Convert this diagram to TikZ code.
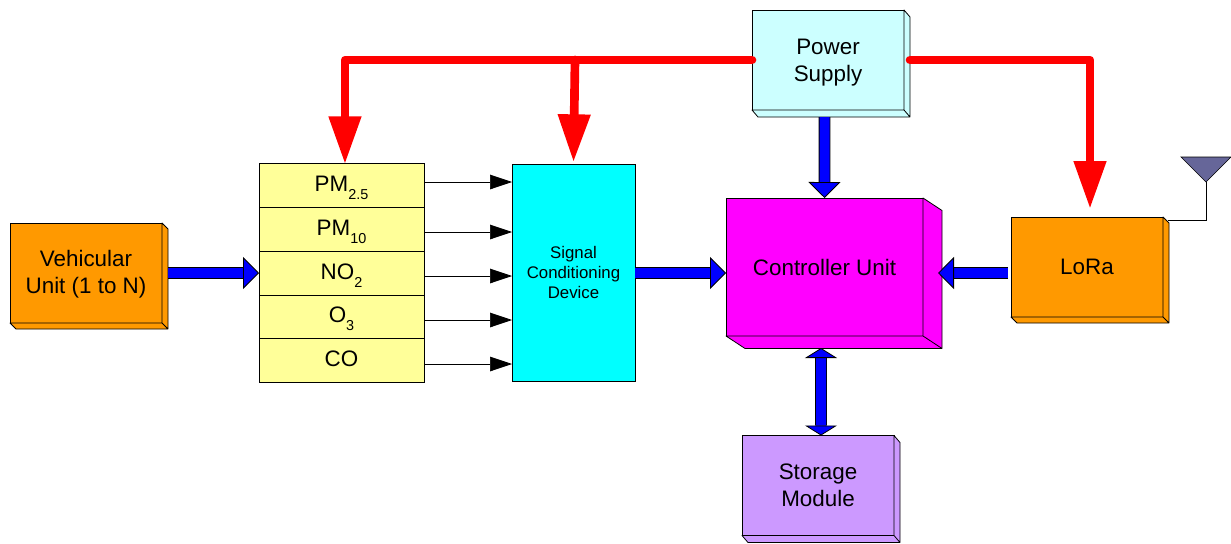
\documentclass[tikz,border=0pt]{standalone}
\usepackage{fontspec}
\setmainfont{Liberation Sans}
\usepackage{pgf, tikz}
\usetikzlibrary{shapes}
\usetikzlibrary{shapes.multipart}
\usetikzlibrary{arrows.meta}

\definecolor{unitorange}{HTML}{FF9900}
\definecolor{powercyan}{HTML}{CCFFFF}
\definecolor{sensoryellow}{HTML}{FFFF99}
\definecolor{storagepurple}{HTML}{CC99FF}
\definecolor{antennablue}{HTML}{666699}
\definecolor{signalcyan}{HTML}{00FFFF}
\definecolor{controlmagenta}{HTML}{FF00FF}
\definecolor{linkblue}{HTML}{0000FF}
\definecolor{powerred}{HTML}{FF0000}

\tikzset{
  unitbox/.style={draw, rectangle, align=center, inner sep=0pt, outer sep=0pt,
    line width=0.6pt, font=\fontsize{16.8}{20.25}\selectfont},
  powerline/.style={draw=powerred, line width=6.5pt, line cap=round, line join=round,
    -{Triangle[length=36pt, width=23pt]}},
  dataline/.style={draw=black, line width=0.6pt, double=linkblue, double distance=7.5pt,
    -{Triangle[length=12pt, width=24pt, line width=0.6pt, fill=linkblue]}},
  bothline/.style={draw=black, line width=0.6pt, double=linkblue, double distance=7.5pt,
    {Triangle[length=7.5pt, width=24pt, line width=0.6pt, fill=linkblue]}-{Triangle[length=7.5pt, width=24pt, line width=0.6pt, fill=linkblue]}},
  sensorline/.style={draw=black, line width=0.5pt,
    -{Triangle[length=16.5pt, width=11pt]}}
}

\newcommand{\sensorsub}[1]{\raisebox{-6pt}{\fontsize{10.8}{12}\selectfont #1}}
\newcommand{\sensorstrut}{\rule[-11.6pt]{0pt}{32.3pt}}
\newcommand{\boxdepth}[4]{
  \filldraw[fill=#4, line width=0.6pt, line join=round] (#1.north east) -- ++(#2,#3)
    -- ([shift={(#2,#3)}]#1.south east)
    -- ([shift={(#2,#3)}]#1.south west)
    -- (#1.south west) -- (#1.south east) -- cycle
    (#1.south east) -- ++(#2,#3);
}

\begin{document}
\begin{tikzpicture}[x=0.75pt, y=-0.75pt]
\useasboundingbox (0,0) rectangle (1231,543);

\node[unitbox, fill=unitorange,
   minimum width=114pt,
   minimum height=75pt] (vehicle) at (86,273)
  {\rule{0pt}{14.2pt}Vehicular\\Unit (1 to N)};
\node[unitbox, fill=powercyan,
   minimum width=114pt,
   minimum height=75pt] (power) at (828,60)
  {\rule{0pt}{15pt}Power\\Supply};
\node[unitbox, fill=controlmagenta,
   minimum width=147.75pt,
   minimum height=103.5pt] (controller) at (824.5,267)
  {Controller Unit};
\node[unitbox, fill=unitorange,
   minimum width=114pt,
   minimum height=75pt] (lora) at (1087,267)
  {LoRa};
\node[unitbox, fill=storagepurple,
   minimum width=114pt,
   minimum height=75pt] (storage) at (818,485.5)
  {Storage\\Module};
\node[unitbox, fill=signalcyan,
   font=\fontsize{12.6}{15}\selectfont,
   minimum width=92.25pt,
   minimum height=163pt] (signal) at (573.5,273)
  {Signal\\Conditioning\\Device\rule[-1.5pt]{0pt}{0pt}};
\node[draw, fill=sensoryellow,
   rectangle split,
   rectangle split parts=5,
   line width=0.6pt,
   inner ysep=0pt,
   outer sep=0pt,
   minimum width=123.75pt,
   font=\fontsize{16.8}{20.25}\selectfont] (sensors) at (341.5,273)
  {\sensorstrut PM\sensorsub{2.5}
     \nodepart{two} \sensorstrut PM\sensorsub{10}
     \nodepart{three} \sensorstrut NO\sensorsub{2}
     \nodepart{four} \sensorstrut O\sensorsub{3}
     \nodepart{five} \sensorstrut CO};

\boxdepth{vehicle}{6}{6}{unitorange}
\boxdepth{power}{6}{7}{powercyan}
\boxdepth{controller}{19}{12.5}{controlmagenta}
\boxdepth{lora}{6}{6}{unitorange}
\boxdepth{storage}{6}{7}{storagepurple}

\coordinate (powerbus) at (575,60);
\coordinate (antennafoot) at (1206,182);
\filldraw[fill=antennablue, line width=0.5pt] (1181,157) -- (1231,157) -- (antennafoot) -- cycle;
\draw[line width=0.5pt] (antennafoot) |- ([xshift=3.75pt, yshift=-2.25pt]lora.north east);

\draw[powerline] (power.west) -| ([xshift=2.6pt, yshift=-0.75pt]sensors.north);
\draw[powerline] (powerbus) -- ([yshift=1.5pt]signal.north);
\draw[powerline] ([xshift=4.5pt]power.east) -| ([xshift=2.25pt, yshift=6pt]lora.north);

\draw[dataline] ([xshift=4.5pt]vehicle.east) -- (sensors.west);
\draw[dataline] (signal.east) -- (controller.west |- signal.east);
\draw[dataline] ([xshift=-2.25pt, yshift=-4.5pt]lora.west) -- ([xshift=11.25pt, yshift=-4.5pt]controller.east);
\draw[dataline] ([xshift=-2.6pt, yshift=-5.25pt]power.south) -- (controller.north);
\draw[bothline] ([xshift=-2.6pt, yshift=-9pt]controller.south) -- ([xshift=2.25pt]storage.north);

\foreach \y in {182,232,276,320,364}
  \draw[sensorline] (sensors.east |- 0,\y) -- (signal.west |- 0,\y);
\end{tikzpicture}
\end{document}
